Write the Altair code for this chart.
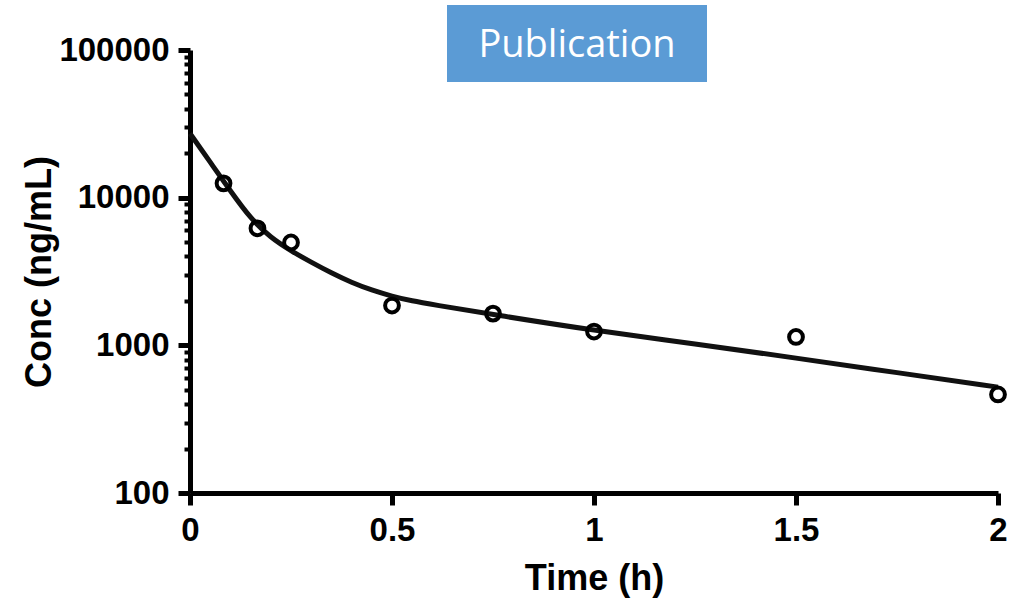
import altair as alt
import pandas as pd

# Observed concentrations (open circles)
obs_time = [0.083, 0.167, 0.25, 0.5, 0.75, 1.0, 1.5, 2.0]
obs_conc = [12500, 6200, 4970, 1860, 1640, 1240, 1140, 465]

# Fitted curve
fit_time = [0, 0.05, 0.1, 0.15, 0.2, 0.25, 0.3, 0.35, 0.4, 0.45, 0.5, 0.55, 0.6, 0.75, 1.0, 1.25, 1.5, 1.75, 2.0]
fit_conc = [27200, 17400, 11100, 7210, 5350, 4365, 3650, 3090, 2660, 2360, 2150, 1995, 1890, 1615, 1260, 1025, 820, 653, 521]

x_ticks = [0, 0.5, 1, 1.5, 2]
y_major = [100, 1000, 10000, 100000]
y_ticks = [m * k for m in [100, 1000, 10000] for k in range(1, 10)] + [100000]

obs = pd.DataFrame({"t": obs_time, "c": obs_conc})
fit = pd.DataFrame({"t": fit_time, "c": fit_conc})

major_test = " || ".join(f"datum.value == {v}" for v in y_major)

x_scale = alt.Scale(domain=[0, 2], nice=False, zero=False)
y_scale = alt.Scale(type="log", domain=[100, 100000], nice=False)

x_axis = alt.Axis(
    values=x_ticks, format="~g", title="Time (h)",
    domainColor="black", domainWidth=5, tickColor="black", tickWidth=5, tickSize=12,
    labelFont="Liberation Sans", labelFontWeight="bold", labelFontSize=33, labelColor="black",
    labelPadding=9, labelFlush=False, labelOverlap=False,
    titleFont="Liberation Sans", titleFontWeight="bold", titleFontSize=36, titleColor="black",
    titlePadding=14, grid=False,
)
y_axis = alt.Axis(
    values=y_ticks,
    labelExpr=f"({major_test}) ? format(datum.value, 'd') : ''",
    title="Conc (ng/mL)",
    domainColor="black", domainWidth=5, tickColor="black",
    tickWidth={"condition": {"test": major_test, "value": 5}, "value": 4},
    tickSize={"condition": {"test": major_test, "value": 12}, "value": 6},
    labelFont="Liberation Sans", labelFontWeight="bold", labelFontSize=33, labelColor="black",
    labelPadding=9, labelFlush=False, labelOverlap=False,
    titleFont="Liberation Sans", titleFontWeight="bold", titleFontSize=36, titleColor="black",
    titlePadding=0, grid=False,
)

line = alt.Chart(fit).mark_line(color="#111111", strokeWidth=5, interpolate="basis").encode(
    x=alt.X("t:Q", scale=x_scale, axis=x_axis),
    y=alt.Y("c:Q", scale=y_scale, axis=y_axis),
)
points = alt.Chart(obs).mark_point(shape="circle", filled=False, color="black", strokeWidth=4, size=190, opacity=1).encode(
    x=alt.X("t:Q", scale=x_scale),
    y=alt.Y("c:Q", scale=y_scale),
)

badge = pd.DataFrame({"label": ["Publication"]})
box = alt.Chart(badge).mark_rect(color="#5b9bd5").encode(
    x=alt.value(257), x2=alt.value(517), y=alt.value(-45), y2=alt.value(32)
)
box_text = alt.Chart(badge).mark_text(
    font="Open Sans", fontSize=38, color="white", align="center", baseline="alphabetic"
).encode(x=alt.value(387), y=alt.value(7), text="label:N")

chart = alt.layer(line, points, box, box_text).properties(
    width=808, height=443,
    autosize=alt.AutoSizeParams(type="none"),
    padding={"left": 190, "top": 50, "right": 15, "bottom": 113},
    background="white",
).configure_view(stroke=None)

chart.save("out.html", embed_options={"renderer": "svg", "actions": False})
